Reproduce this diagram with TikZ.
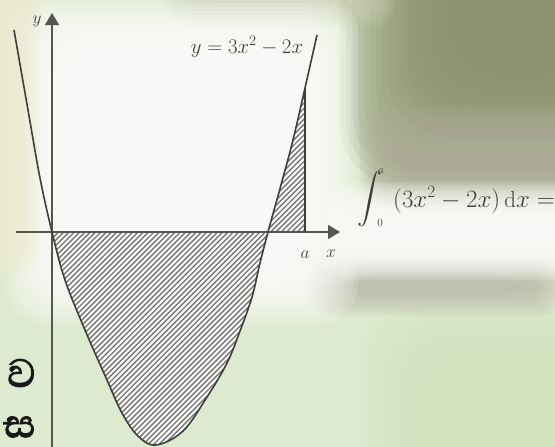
\documentclass[tikz,border=0pt]{standalone}
\usepackage{amsmath}
\usepackage{fontspec}
\newfontfamily\sinfont[Script=Sinhala,FakeBold=2.5]{Abhaya Libre}
\usetikzlibrary{arrows.meta}
\definecolor{bggreen}{RGB}{222,234,207}
\definecolor{deepgreen}{RGB}{210,227,192}
\definecolor{olive}{RGB}{140,144,108}
\definecolor{midgray}{RGB}{172,172,150}
\definecolor{topgreen}{RGB}{200,206,178}
\definecolor{cream}{RGB}{241,235,210}
\definecolor{shadowgray}{RGB}{192,192,176}
\definecolor{inkgray}{RGB}{62,62,58}
\definecolor{axisgray}{RGB}{85,85,82}
\definecolor{hatchgray}{RGB}{118,118,114}
% soft-edged rectangle: colour, x1, y1, x2, y2, blur
\newcommand\softrect[6]{%
  \foreach \k in {0,...,19}{%
    \fill[#1, fill opacity=0.14, rounded corners=#6pt]
      ({#2-#6+\k*#6/10},{#3-#6+\k*#6/10}) rectangle ({#4+#6-\k*#6/10},{#5+#6-\k*#6/10});
  }%
}
\tikzset{
  curveline/.style={draw=inkgray, line width=1.6pt},
  axisline/.style={draw=axisgray, line width=1.4pt, -{Triangle[width=14pt,length=12pt]}},
  hatchline/.style={draw=hatchgray, line width=1.4pt},
  lbl/.style={text=inkgray, inner sep=0pt},
  sinlbl/.style={text=black!90, inner sep=0pt, font=\sinfont\fontsize{50}{50}\selectfont},
}
\begin{document}
\begin{tikzpicture}[x=1pt,y=-1pt]
\useasboundingbox (0,0) rectangle (555,447);
\clip (0,0) rectangle (555,447);
% background
\fill[bggreen] (0,0) rectangle (555,447);
\softrect{deepgreen}{420}{360}{600}{480}{60}
\softrect{olive}{400}{-80}{640}{125}{60}
\softrect{midgray}{390}{135}{620}{180}{30}
\softrect{topgreen}{190}{-40}{370}{2}{26}
\softrect{shadowgray}{330}{279}{540}{294}{22}
\softrect{white}{350}{210}{620}{252}{28}
\softrect{white}{45}{35}{318}{285}{40}
\softrect{cream}{-40}{-20}{12}{250}{28}
% hatched region below the x-axis
\begin{scope}
  \clip (0,232) rectangle (555,447);
  \clip plot[smooth, tension=0.6] coordinates {(14,30) (28,110) (40,178) (52,232) (65,280) (85,330) (107,380) (122,413) (138,436) (156,445) (183,431) (207,397) (227,363) (240,331) (252,297) (260,263) (268,232) (281,185) (293,140) (305,88) (317,35)} -- cycle;
  \fill[white] (0,0) rectangle (555,447);
  \foreach \c in {280,285.3,...,640} \draw[hatchline] (\c,0) -- ++(-500,500);
\end{scope}
% hatched region above the x-axis, from the root to a
\begin{scope}
  \clip (262,86) rectangle (305,232);
  \begin{scope}[even odd rule]
  \clip plot[smooth, tension=0.6] coordinates {(14,30) (28,110) (40,178) (52,232) (65,280) (85,330) (107,380) (122,413) (138,436) (156,445) (183,431) (207,397) (227,363) (240,331) (252,297) (260,263) (268,232) (281,185) (293,140) (305,88) (317,35)} -- cycle (-100,-100) rectangle (700,700);
  \fill[white] (0,0) rectangle (555,447);
  \foreach \c in {280,285.3,...,640} \draw[hatchline] (\c,0) -- ++(-500,500);
  \end{scope}
\end{scope}
\coordinate (atop) at (305,88);
\coordinate (abot) at (305,232);
\draw[draw=inkgray, line width=1.4pt] (atop) -- (abot);
% axes
\coordinate (xstart) at (16,232);
\coordinate (xend) at (340,232);
\coordinate (ystart) at (52,447);
\coordinate (yend) at (52,13);
\draw[axisline] (xstart) -- (xend);
\draw[axisline] (ystart) -- (yend);
% curve
\draw[curveline] plot[smooth, tension=0.6] coordinates {(14,30) (28,110) (40,178) (52,232) (65,280) (85,330) (107,380) (122,413) (138,436) (156,445) (183,431) (207,397) (227,363) (240,331) (252,297) (260,263) (268,232) (281,185) (293,140) (305,88) (317,35)};
% labels
\node[lbl, font=\fontsize{17}{17}\selectfont] (ylab) at (37,21) {$y$};
\node[lbl, font=\fontsize{17}{17}\selectfont] (alab) at (305,255) {$a$};
\node[lbl, font=\fontsize{17}{17}\selectfont] (xlab) at (331,254) {$x$};
\node[lbl, font=\fontsize{20}{22}\selectfont] (eq) at (247,47) {$y = 3x^2 - 2x$};
\node[lbl, font=\fontsize{28}{28}\selectfont] (intsign) at (370,199) {$\displaystyle\int$};
\node[lbl, font=\fontsize{11}{11}\selectfont] (uplim) at (381,171) {$a$};
\node[lbl, font=\fontsize{11}{11}\selectfont] (lowlim) at (380,223) {$0$};
\node[lbl, font=\fontsize{23}{25}\selectfont, anchor=base west] (intg) at (393,207) {$(3x^2 - 2x)\,\mathrm{d}x =$};
\node[sinlbl, anchor=east] (s1) at (36,373) {ව};
\node[sinlbl, anchor=east] (s2) at (36,427) {ස};
\end{tikzpicture}
\end{document}
